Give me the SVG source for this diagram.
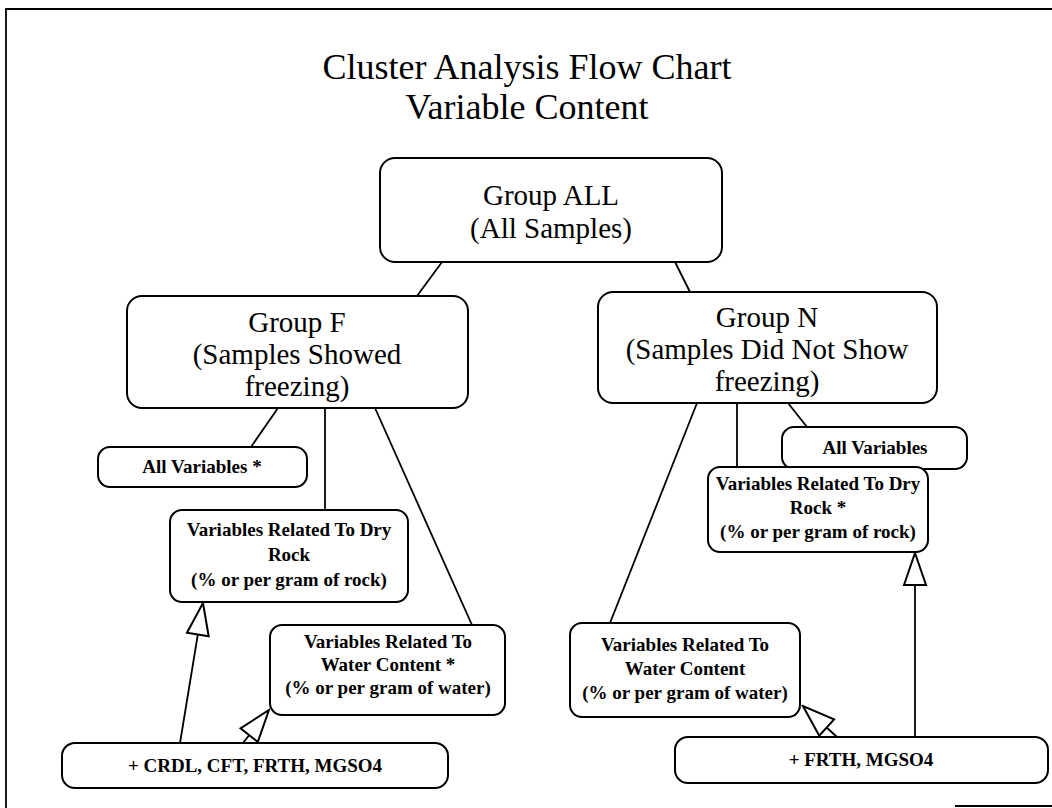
<svg xmlns="http://www.w3.org/2000/svg" width="1052" height="808" viewBox="0 0 1052 808">
<style>
.bx{fill:#fff;stroke:#000;stroke-width:2}
.ln{stroke:#000;stroke-width:1.8;fill:none}
.big{font-family:"Liberation Serif","Times New Roman",serif;font-size:29px;text-anchor:middle;fill:#000}
.sm{font-family:"Liberation Serif","Times New Roman",serif;font-size:19px;font-weight:bold;text-anchor:middle;fill:#000}
.title{font-family:"Liberation Serif","Times New Roman",serif;font-size:36px;text-anchor:middle;fill:#000}
</style>
<defs>
<marker id="open" markerUnits="userSpaceOnUse" markerWidth="36" markerHeight="26" viewBox="0 0 36 26" refX="34" refY="13" orient="auto">
<path d="M2,2 L34,13 L2,24 Z" fill="#fff" stroke="#000" stroke-width="2"/>
</marker>
</defs>
<rect width="1052" height="808" fill="#fff"/>
<g id="frame" class="ln">
<path d="M6,808 L6,9 L1052,9"/>
<path d="M955,806 L1052,806"/>
</g>
<g id="title">
<text class="title" x="527" y="79">Cluster Analysis Flow Chart</text>
<text class="title" x="527" y="119">Variable Content</text>
</g>
<g id="connectors">
<line class="ln" x1="442" y1="262" x2="417" y2="296"/>
<line class="ln" x1="675" y1="262" x2="690" y2="292"/>
<line class="ln" x1="278" y1="408" x2="251" y2="447"/>
<line class="ln" x1="325" y1="408" x2="325" y2="510"/>
<line class="ln" x1="375" y1="408" x2="472" y2="625"/>
<line class="ln" x1="697" y1="403" x2="610" y2="623"/>
<line class="ln" x1="737" y1="403" x2="737" y2="467"/>
<line class="ln" x1="788" y1="403" x2="807" y2="427"/>
<line class="ln" x1="180" y1="743" x2="203" y2="603" marker-end="url(#open)"/>
<line class="ln" x1="243" y1="743" x2="269" y2="710" marker-end="url(#open)"/>
<line class="ln" x1="837" y1="737" x2="803" y2="706" marker-end="url(#open)"/>
<line class="ln" x1="915" y1="737" x2="915" y2="553" marker-end="url(#open)"/>
</g>
<g id="all">
<rect class="bx" x="380" y="158" width="342" height="104" rx="15"/>
<text class="big" x="551" y="205">Group ALL</text>
<text class="big" x="551" y="238">(All Samples)</text>
</g>
<g id="groupF">
<rect class="bx" x="127" y="296" width="341" height="112" rx="15"/>
<text class="big" x="297" y="332">Group F</text>
<text class="big" x="297" y="364">(Samples Showed</text>
<text class="big" x="297" y="396">freezing)</text>
</g>
<g id="groupN">
<rect class="bx" x="598" y="292" width="339" height="111" rx="15"/>
<text class="big" x="767" y="327">Group N</text>
<text class="big" x="767" y="359">(Samples Did Not Show</text>
<text class="big" x="767" y="391">freezing)</text>
</g>
<g id="allVarF">
<rect class="bx" x="98" y="447" width="209" height="40" rx="12"/>
<text class="sm" x="202" y="473">All Variables *</text>
</g>
<g id="dryF">
<rect class="bx" x="170" y="510" width="238" height="92" rx="12"/>
<text class="sm" x="289" y="536">Variables Related To Dry</text>
<text class="sm" x="289" y="561">Rock</text>
<text class="sm" x="289" y="586">(% or per gram of  rock)</text>
</g>
<g id="waterF">
<rect class="bx" x="270" y="625" width="235" height="90" rx="12"/>
<text class="sm" x="388" y="648">Variables Related To</text>
<text class="sm" x="388" y="671">Water Content *</text>
<text class="sm" x="388" y="694">(% or per gram of water)</text>
</g>
<g id="bottomF">
<rect class="bx" x="62" y="743" width="386" height="45" rx="13"/>
<text class="sm" x="255" y="772">+ CRDL,  CFT,  FRTH,  MGSO4</text>
</g>
<g id="allVarN">
<rect class="bx" x="782" y="427" width="185" height="42" rx="12"/>
<text class="sm" x="875" y="454">All Variables</text>
</g>
<g id="dryN">
<rect class="bx" x="708" y="467" width="220" height="85" rx="12"/>
<text class="sm" x="818" y="490">Variables Related To Dry</text>
<text class="sm" x="818" y="514">Rock *</text>
<text class="sm" x="818" y="538">(% or per gram of  rock)</text>
</g>
<g id="waterN">
<rect class="bx" x="570" y="623" width="230" height="94" rx="12"/>
<text class="sm" x="685" y="651">Variables Related To</text>
<text class="sm" x="685" y="675">Water Content</text>
<text class="sm" x="685" y="699">(% or per gram of water)</text>
</g>
<g id="bottomN">
<rect class="bx" x="675" y="737" width="373" height="46" rx="13"/>
<text class="sm" x="861" y="766">+  FRTH,  MGSO4</text>
</g>
</svg>
